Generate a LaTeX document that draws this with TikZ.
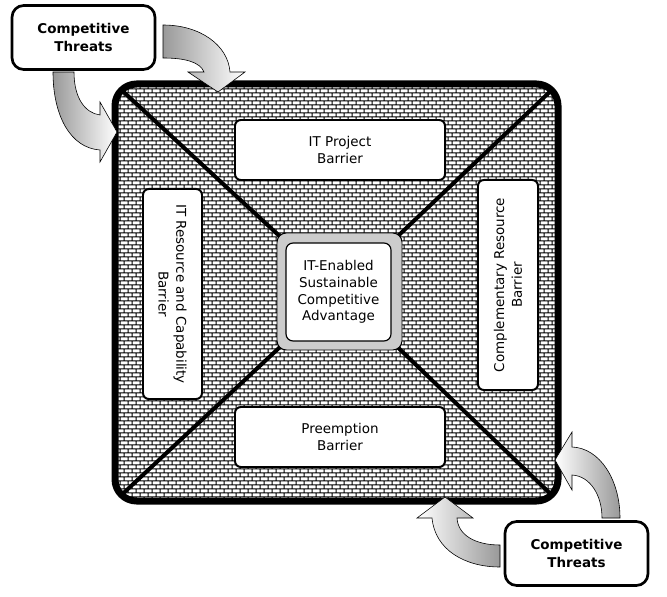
\documentclass[tikz,border=0pt]{standalone}
\usepackage{fontspec}
\setmainfont{DejaVu Sans}
\usetikzlibrary{patterns}

% small brick fill for the square
\pgfdeclarepatternformonly{smallbricks}{\pgfpointorigin}{\pgfpoint{6.8pt}{6.8pt}}{\pgfpoint{6.8pt}{6.8pt}}{
	\pgfsetlinewidth{0.75pt}
	\pgfpathmoveto{\pgfpoint{0pt}{1pt}}\pgfpathlineto{\pgfpoint{6.8pt}{1pt}}
	\pgfpathmoveto{\pgfpoint{0pt}{4.4pt}}\pgfpathlineto{\pgfpoint{6.8pt}{4.4pt}}
	\pgfpathmoveto{\pgfpoint{1pt}{1pt}}\pgfpathlineto{\pgfpoint{1pt}{4.4pt}}
	\pgfpathmoveto{\pgfpoint{4.4pt}{4.4pt}}\pgfpathlineto{\pgfpoint{4.4pt}{6.8pt}}
	\pgfpathmoveto{\pgfpoint{4.4pt}{0pt}}\pgfpathlineto{\pgfpoint{4.4pt}{1pt}}
	\pgfusepath{stroke}
}

\tikzset{
	barrier/.style={draw, line width=1.7pt, fill=white, rounded corners=5pt, align=center,
		inner sep=0pt, font=\fontsize{11.5}{15.3}\selectfont},
	threat/.style={draw, line width=2.3pt, fill=white, rounded corners=10pt, align=center,
		inner sep=0pt, minimum width=4.29cm, minimum height=1.92cm,
		font=\fontsize{11.5}{15.3}\selectfont\bfseries},
	diag/.style={line width=3.4pt},
	threatarrow/.style={draw=black, line width=0.5pt},
}

\begin{document}
\begin{tikzpicture}[x=0.03cm, y=-0.03cm]

	\useasboundingbox (0,0) rectangle (667,597);

	\coordinate (tl) at (115,84);
	\coordinate (tr) at (558,84);
	\coordinate (bl) at (115,501);
	\coordinate (br) at (558,501);
	\coordinate (mid) at (339.5,291.5);

	% brick square
	\fill[white] (tl) rectangle (br);
	\fill[pattern=smallbricks, rounded corners=0.6cm] (tl) rectangle (br);

	\begin{scope}
		\clip[rounded corners=0.6cm] (tl) rectangle (br);
		\foreach \c in {tl, tr, bl, br} {
			\draw[diag] (\c) -- (mid);
		}
	\end{scope}

	\draw[line width=0.21cm, rounded corners=0.65cm] (tl) rectangle (br);

	% the four barriers
	\node[barrier, minimum width=6.3cm, minimum height=1.8cm] (projbar) at (340,150) {IT Project\\Barrier};
	\node[barrier, minimum width=6.3cm, minimum height=1.8cm] (preembar) at (340,437) {Preemption\\Barrier};
	\node[barrier, rotate=-90, minimum width=6.3cm, minimum height=1.77cm] (resbar) at (172.5,294) {IT Resource and Capability\\Barrier};
	\node[barrier, rotate=90, minimum width=6.3cm, minimum height=1.8cm] (compbar) at (508,285) {Complementary Resource\\Barrier};

	% centre
	\node[draw, line width=0.8pt, fill=gray!40, rounded corners=8pt, minimum width=3.75cm, minimum height=3.51cm] (core) at (mid) {};
	\node[draw, line width=1pt, fill=white, rounded corners=6pt, minimum width=3.15cm, minimum height=2.94cm,
		align=center, inner sep=0pt, font=\fontsize{11.5}{14.2}\selectfont] (corein) at (338.5,292) {IT-Enabled\\Sustainable\\Competitive\\Advantage};

	% threats
	\node[threat] (threatA) at (83.5,37.5) {Competitive\\Threats};
	\node[threat] (threatB) at (576.5,553.5) {Competitive\\Threats};

	\draw[threatarrow, left color=gray!80, right color=white]
		(163,25) .. controls (200,25) and (228,45) .. (230,72) -- (245,72) -- (218,92) -- (188,72) -- (204,72)
		.. controls (200,62) and (185,58) .. (163,58) -- cycle;
	\draw[threatarrow, left color=gray!80, right color=white]
		(53,72) -- (74,72) .. controls (74,98) and (85,113) .. (100,115) -- (100,102) -- (117,132) -- (100,162)
		-- (100,150) .. controls (70,148) and (53,115) .. (53,72) -- cycle;
	\draw[threatarrow, left color=white, right color=gray!80]
		(500,545) .. controls (475,545) and (458,535) .. (457,518) -- (473,518) -- (445,497) -- (417,518)
		-- (432,518) .. controls (435,550) and (465,567) .. (500,567) -- cycle;
	\draw[threatarrow, left color=white, right color=gray!80]
		(602,518) .. controls (602,495) and (590,476) .. (572,475) -- (572,490) -- (555,460) -- (572,432)
		-- (572,447) .. controls (600,448) and (620,480) .. (620,518) -- cycle;

\end{tikzpicture}
\end{document}
